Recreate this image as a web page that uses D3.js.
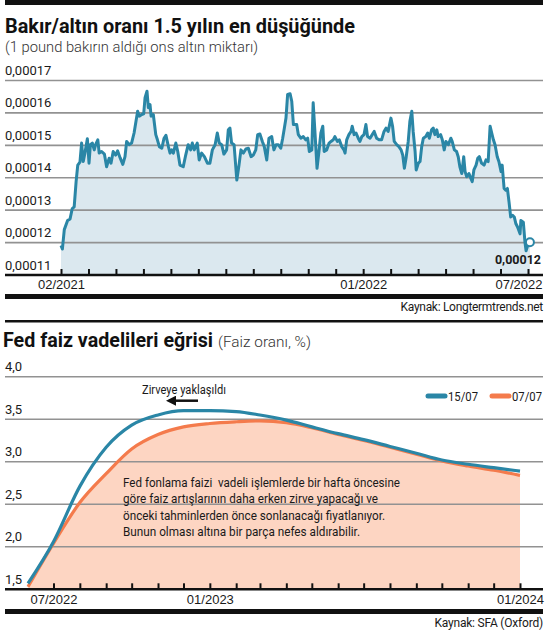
<!DOCTYPE html>
<html>
<head>
<meta charset="utf-8">
<script src="https://cdn.jsdelivr.net/npm/d3@7"></script>
<style>
  body { margin: 0; background: #fff; }
  svg { display: block; font-family: Roboto, "Noto Sans", sans-serif; }
</style>
</head>
<body>
<svg width="554" height="635"></svg>
<script>
// ---- Bakır/altın oranı (months since 02/2021, value x 1e-5)
const ratioMonths = [0.00,0.05,0.12,0.24,0.33,0.41,0.48,0.55,0.61,0.69,0.75,0.81,0.87,0.96,1.02,1.07,1.14,1.21,1.26,1.34,1.39,1.48,1.58,1.66,1.75,1.82,1.90,1.99,2.06,2.15,2.25,2.33,2.39,2.48,2.57,2.66,2.73,2.79,2.85,2.94,3.01,3.06,3.13,3.18,3.24,3.28,3.36,3.45,3.51,3.58,3.67,3.75,3.82,3.91,3.97,4.03,4.09,4.18,4.25,4.33,4.45,4.54,4.63,4.72,4.78,4.85,4.96,5.03,5.12,5.22,5.33,5.42,5.51,5.61,5.69,5.76,5.85,5.93,6.03,6.09,6.15,6.21,6.30,6.40,6.48,6.55,6.64,6.73,6.82,6.92,7.00,7.09,7.16,7.24,7.33,7.40,7.49,7.57,7.67,7.75,7.83,7.91,8.00,8.07,8.13,8.19,8.25,8.34,8.40,8.46,8.58,8.64,8.73,8.82,8.91,8.98,9.04,9.13,9.18,9.25,9.32,9.39,9.46,9.53,9.58,9.67,9.76,9.83,9.91,9.97,10.06,10.13,10.22,10.30,10.34,10.40,10.48,10.56,10.60,10.67,10.74,10.82,10.88,10.95,11.03,11.10,11.16,11.25,11.33,11.40,11.49,11.58,11.67,11.76,11.83,11.91,12.01,12.07,12.13,12.22,12.30,12.38,12.44,12.50,12.56,12.64,12.70,12.77,12.82,12.89,12.93,13.01,13.07,13.13,13.19,13.28,13.35,13.41,13.49,13.55,13.61,13.68,13.73,13.82,13.88,13.95,14.01,14.10,14.19,14.24,14.32,14.40,14.46,14.52,14.59,14.66,14.71,14.77,14.85,14.92,14.97,15.03,15.11,15.17,15.23,15.31,15.40,15.47,15.55,15.62,15.68,15.74,15.80,15.88,15.94,16.02,16.06,16.13,16.19,16.25,16.31,16.37,16.44,16.50,16.56,16.62,16.71,16.74,16.83,16.89,16.93,16.99,17.07]
const ratioValues = [11.91,11.80,12.40,12.68,12.73,13.05,13.10,13.88,14.39,14.48,15.07,14.50,14.76,15.20,14.45,15.02,15.07,14.86,15.02,15.17,14.76,14.81,14.73,14.34,14.60,14.45,14.81,14.70,14.83,14.62,14.41,14.65,15.12,15.02,15.07,15.38,15.74,16.05,15.90,15.95,15.97,16.47,16.67,16.16,16.26,15.90,15.95,15.33,15.17,14.96,14.91,15.22,15.31,14.96,14.76,14.86,14.76,15.07,14.81,14.39,14.34,14.70,15.02,14.86,15.07,14.86,15.07,14.55,14.76,14.65,14.45,14.45,14.86,15.02,15.38,15.07,15.02,14.73,14.86,15.48,15.53,15.07,15.02,13.93,14.39,14.86,14.76,14.89,14.91,14.65,14.70,14.86,15.33,15.35,15.12,14.96,14.55,15.22,15.27,14.86,15.02,15.02,14.91,15.22,15.53,15.84,16.57,16.59,16.36,15.64,15.64,15.33,15.22,15.27,15.17,15.22,14.81,14.86,16.31,15.33,14.29,14.81,15.38,15.59,14.81,14.86,15.07,15.12,15.17,15.27,15.12,15.17,14.96,14.86,14.76,15.17,15.33,15.43,15.59,15.33,15.38,15.22,15.12,15.27,15.33,15.64,15.27,15.22,15.33,15.43,15.22,15.17,15.17,15.43,15.53,15.43,15.84,15.59,15.12,15.02,14.96,14.86,14.70,14.29,14.60,15.12,15.74,16.05,15.43,14.81,14.24,14.45,14.50,14.96,15.22,15.27,15.38,15.22,15.48,15.53,15.33,15.48,15.27,15.33,15.17,14.86,15.12,15.02,15.22,15.12,14.86,14.81,14.65,14.34,14.13,14.65,14.19,14.03,14.13,13.98,13.88,14.24,14.39,14.60,14.65,14.45,14.39,14.55,14.50,15.59,15.38,15.17,15.02,14.65,14.50,14.19,14.39,13.67,13.62,13.67,13.25,12.79,12.84,12.79,12.58,12.48,12.27,12.68,12.63,12.01,11.75,11.91,12.01]
const ratioTicks = [11, 12, 13, 14, 15, 16, 17]
const ratioLabelMonths = [0, 11, 17]
const ratioLabelText = ['02/2021', '01/2022', '07/2022']

// ---- Fed faiz vadelileri
const fedMonths = ['2022-06','2022-07','2022-08','2022-09','2022-10','2022-11','2022-12','2023-01','2023-02','2023-03','2023-04','2023-05','2023-06','2023-07','2023-08','2023-09','2023-10','2023-11','2023-12','2024-01']
const fed1507 = [1.57,2.06,2.71,3.17,3.43,3.55,3.60,3.60,3.59,3.55,3.49,3.41,3.33,3.26,3.18,3.10,3.02,2.97,2.93,2.89]
const fed0707 = [1.53,2.04,2.52,2.86,3.15,3.32,3.41,3.45,3.47,3.48,3.46,3.40,3.32,3.25,3.17,3.09,3.01,2.95,2.90,2.84]
const rateTicks = [1.5, 2.0, 2.5, 3.0, 3.5, 4.0]
const fedLabelMonths = ['2022-07', '2023-01', '2024-01']

const svg = d3.select('svg')
const L = 5, R = 543
const blue = '#2a86a6', orange = '#f47b4c'
const comma = f => v => f(v).replace('.', ',')

function squeeze(sel, w) {
  sel.attr('textLength', w).attr('lengthAdjust', 'spacingAndGlyphs')
}

// ========== üst grafik ==========
svg.append('rect').attr('x', L).attr('y', 0).attr('width', R - L).attr('height', 5).attr('fill', '#111')
svg.append('text').attr('x', L).attr('y', 33).attr('font-size', 21).attr('font-weight', 700).attr('fill', '#111')
  .text('Bakır/altın oranı 1.5 yılın en düşüğünde').call(squeeze, 350)
svg.append('text').attr('x', L).attr('y', 51.5).attr('font-size', 15).attr('font-weight', 300).attr('fill', '#333')
  .text('(1 pound bakırın aldığı ons altın miktarı)').call(squeeze, 253)

let x1 = d3.scaleLinear().domain([0, 17]).range([61, 528])
let y1 = d3.scaleLinear().domain([11e-5, 17e-5]).range([275, 80.5])
let ratio = ratioMonths.map((m, i) => ({ m: m, v: ratioValues[i] * 1e-5 }))

svg.append('path').datum(ratio)
  .attr('fill', '#dbe8ef')
  .attr('d', d3.area().x(d => x1(d.m)).y0(y1(11e-5)).y1(d => y1(d.v)))

let g1 = svg.append('g')
g1.selectAll('line').data(ratioTicks.slice(1)).enter().append('line')
  .attr('x1', L).attr('x2', R)
  .attr('y1', d => y1(d * 1e-5)).attr('y2', d => y1(d * 1e-5))
  .attr('stroke', '#929292').attr('stroke-width', 1.6)
g1.selectAll('text').data(ratioTicks).enter().append('text')
  .attr('x', L).attr('y', d => y1(d * 1e-5) - 5.5)
  .attr('font-size', 13).attr('fill', '#1a1a1a')
  .text(d => comma(d3.format('.5f'))(d * 1e-5))

svg.append('path').datum(ratio)
  .attr('fill', 'none').attr('stroke', blue).attr('stroke-width', 3).attr('stroke-linejoin', 'round')
  .attr('d', d3.line().x(d => x1(d.m)).y(d => y1(d.v)))

let last = ratio[ratio.length - 1]
svg.append('circle').attr('cx', x1(last.m)).attr('cy', y1(last.v)).attr('r', 4)
  .attr('fill', '#fff').attr('stroke', blue).attr('stroke-width', 2)
svg.append('text').attr('x', R - 2).attr('y', 264).attr('text-anchor', 'end')
  .attr('font-size', 12.5).attr('font-weight', 700).attr('fill', '#1a1a1a')
  .text(comma(d3.format('.5f'))(last.v))

let ax1 = svg.append('g').attr('transform', 'translate(0,275)')
  .call(d3.axisBottom(x1).tickValues(d3.range(0, 18)).tickSizeInner(-6).tickSizeOuter(0).tickPadding(5)
    .tickFormat(m => { let k = ratioLabelMonths.indexOf(m); return k < 0 ? '' : ratioLabelText[k] }))
ax1.select('.domain').remove()
ax1.selectAll('line').attr('stroke', '#111').attr('stroke-width', 2)
ax1.selectAll('text').attr('font-size', 13).attr('fill', '#1a1a1a').attr('font-family', null)
ax1.selectAll('.tick').filter(m => m === 17).select('text')
  .attr('text-anchor', 'end').attr('x', R - 1 - x1(17))
svg.append('line').attr('x1', L).attr('x2', R).attr('y1', 275).attr('y2', 275).attr('stroke', '#111').attr('stroke-width', 2.5)

svg.append('rect').attr('x', L).attr('y', 294).attr('width', R - L).attr('height', 5).attr('fill', '#111')
svg.append('text').attr('x', R).attr('y', 311).attr('text-anchor', 'end')
  .attr('font-size', 12).attr('letter-spacing', -0.3).attr('fill', '#1a1a1a')
  .text('Kaynak: Longtermtrends.net')

// ========== alt grafik ==========
svg.append('rect').attr('x', L).attr('y', 320).attr('width', R - L).attr('height', 2.5).attr('fill', '#111')
svg.append('text').attr('x', 3).attr('y', 346.5).attr('font-size', 20).attr('font-weight', 700).attr('fill', '#111')
  .text('Fed faiz vadelileri eğrisi').call(squeeze, 210)
svg.append('text').attr('x', 218).attr('y', 346.5).attr('font-size', 15).attr('font-weight', 300).attr('fill', '#333')
  .text('(Faiz oranı, %)').call(squeeze, 93)

let parseM = d3.timeParse('%Y-%m')
let x2 = d3.scaleTime().domain([parseM(fedMonths[0]), parseM(fedMonths[fedMonths.length - 1])]).range([28, 520])
let y2 = d3.scaleLinear().domain([1.5, 4.0]).range([589.3, 376.7])
let curve1507 = fedMonths.map((m, i) => ({ t: parseM(m), v: fed1507[i] }))
let curve0707 = fedMonths.map((m, i) => ({ t: parseM(m), v: fed0707[i] }))

svg.append('path').datum(curve0707)
  .attr('fill', '#fdd5c2')
  .attr('d', d3.area().curve(d3.curveMonotoneX).x(d => x2(d.t)).y0(y2(1.5)).y1(d => y2(d.v)))

let g2 = svg.append('g')
g2.selectAll('line').data(rateTicks.slice(1)).enter().append('line')
  .attr('x1', L).attr('x2', R)
  .attr('y1', d => y2(d)).attr('y2', d => y2(d))
  .attr('stroke', '#929292').attr('stroke-width', 1.6)
g2.selectAll('text').data(rateTicks).enter().append('text')
  .attr('x', L).attr('y', d => y2(d) - 5.5)
  .attr('font-size', 13).attr('fill', '#1a1a1a')
  .text(comma(d3.format('.1f')))

let line2 = d3.line().curve(d3.curveMonotoneX).x(d => x2(d.t)).y(d => y2(d.v))
svg.append('path').datum(curve0707).attr('fill', 'none').attr('stroke', orange).attr('stroke-width', 3.2).attr('d', line2)
svg.append('path').datum(curve1507).attr('fill', 'none').attr('stroke', blue).attr('stroke-width', 3.2).attr('d', line2)

// lejant
let legend = [{ name: '15/07', c: blue, x: 428 }, { name: '07/07', c: orange, x: 492 }]
let lg = svg.selectAll('.lg').data(legend).enter().append('g').attr('class', 'lg')
lg.append('line').attr('x1', d => d.x).attr('x2', d => d.x + 17).attr('y1', 396).attr('y2', 396)
  .attr('stroke', d => d.c).attr('stroke-width', 5).attr('stroke-linecap', 'round')
lg.append('text').attr('x', d => d.x + 20).attr('y', 400.7).attr('font-size', 13).attr('fill', '#1a1a1a')
  .text(d => d.name).call(squeeze, 30)

// ok ve not
svg.append('defs').append('marker').attr('id', 'ok').attr('viewBox', '0 0 10 10')
  .attr('refX', 2).attr('refY', 5).attr('markerWidth', 4).attr('markerHeight', 4).attr('orient', 'auto-start-reverse')
  .append('path').attr('d', 'M0,0L10,5L0,10z').attr('fill', '#111')
svg.append('line').attr('x1', 198).attr('x2', 174).attr('y1', 400.7).attr('y2', 400.7)
  .attr('stroke', '#111').attr('stroke-width', 2.5).attr('marker-end', 'url(#ok)')
svg.append('text').attr('x', 142).attr('y', 393.5).attr('font-size', 12.5).attr('fill', '#1a1a1a')
  .text('Zirveye yaklaşıldı').call(squeeze, 84)

let note = [
  ['Fed fonlama faizi  vadeli işlemlerde bir hafta öncesine', 277],
  ['göre faiz artışlarının daha erken zirve yapacağı ve', 255],
  ['önceki tahminlerden önce sonlanacağı fiyatlanıyor.', 262],
  ['Bunun olması altına bir parça nefes aldırabilir.', 237]
]
svg.append('g').selectAll('text').data(note).enter().append('text')
  .attr('x', 123).attr('y', (d, i) => 486.5 + i * 16.5)
  .attr('font-size', 13).attr('fill', '#1a1a1a').attr('xml:space', 'preserve')
  .text(d => d[0])
  .each(function (d) { d3.select(this).call(squeeze, d[1]) })

let ax2 = svg.append('g').attr('transform', 'translate(0,589.3)')
  .call(d3.axisBottom(x2).tickValues(d3.timeMonth.range(parseM('2022-07'), d3.timeDay.offset(parseM('2024-01'), 1)))
    .tickSizeInner(-6).tickSizeOuter(0).tickPadding(5)
    .tickFormat(t => fedLabelMonths.indexOf(d3.timeFormat('%Y-%m')(t)) < 0 ? '' : d3.timeFormat('%m/%Y')(t)))
ax2.select('.domain').remove()
ax2.selectAll('line').attr('stroke', '#111').attr('stroke-width', 2)
ax2.selectAll('text').attr('font-size', 13).attr('fill', '#1a1a1a').attr('font-family', null)
svg.append('line').attr('x1', L).attr('x2', R).attr('y1', 589.3).attr('y2', 589.3).attr('stroke', '#111').attr('stroke-width', 2.5)

svg.append('rect').attr('x', L).attr('y', 609).attr('width', R - L).attr('height', 5).attr('fill', '#111')
svg.append('text').attr('x', R).attr('y', 627).attr('text-anchor', 'end')
  .attr('font-size', 12).attr('letter-spacing', -0.2).attr('fill', '#1a1a1a')
  .text('Kaynak: SFA (Oxford)')
</script>
</body>
</html>
